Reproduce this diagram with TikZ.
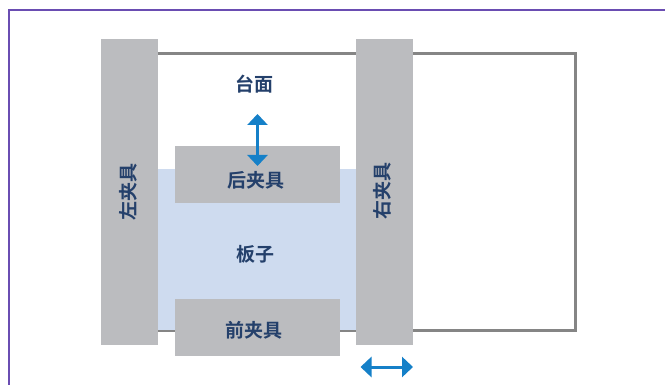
\documentclass[tikz,border=0pt]{standalone}
\usepackage{fontspec}
\setmainfont{Noto Sans CJK SC}[BoldFont={Noto Sans CJK SC Bold}]
\usetikzlibrary{arrows.meta}
\definecolor{clampgrey}{HTML}{BBBCBF}
\definecolor{boardblue}{HTML}{CEDBEF}
\definecolor{tableline}{HTML}{858585}
\definecolor{labelblue}{HTML}{24406B}
\definecolor{arrowblue}{HTML}{1580C8}
\definecolor{framepurple}{HTML}{6A4DB2}
\tikzset{
  x=1pt,y=-1pt,
  box/.style={anchor=north west,inner sep=0pt,outer sep=0pt,draw=none},
  clamp/.style={box,fill=clampgrey},
  lbl/.style={inner sep=0pt,text=labelblue,font=\fontsize{19}{21}\selectfont\bfseries},
  move/.style={draw=arrowblue,line width=3pt,{Triangle[length=11pt,width=20pt]}-{Triangle[length=11pt,width=20pt]}}
}
\begin{document}
\begin{tikzpicture}
\useasboundingbox (0,0) rectangle (665,385);
\fill[white] (0,0) rectangle (665,385);
\coordinate (fa) at (9,385);
\coordinate (fb) at (9,10.5);
\coordinate (fc) at (665,10.5);
\draw[framepurple,line width=2pt] (fa) -- (fb) -- (fc);
\node[box,draw=tableline,line width=3pt,minimum width=425pt,minimum height=276pt] (table) at (150,54) {};
\node[box,fill=boardblue,minimum width=198pt,minimum height=161pt] (board) at (158,169) {};
\node[clamp,minimum width=57pt,minimum height=306pt] (left) at (101,39) {};
\node[clamp,minimum width=57pt,minimum height=306pt] (right) at (356,39) {};
\node[clamp,minimum width=165pt,minimum height=57pt] (rear) at (175,146) {};
\node[clamp,minimum width=165pt,minimum height=57pt] (front) at (175,299) {};
\node[lbl] (ltable) at (254.5,84.5) {台面};
\node[lbl] (lrear) at (255.5,180.5) {后夹具};
\node[lbl] (lboard) at (255.5,254.5) {板子};
\node[lbl] (lfront) at (253.5,330.5) {前夹具};
\node[lbl,rotate=90] (lleft) at (128,192) {左夹具};
\node[lbl,rotate=90] (lright) at (382,191) {右夹具};
\coordinate (va) at (257.5,114);
\coordinate (vb) at (257.5,166);
\coordinate (ha) at (360.5,367);
\coordinate (hb) at (413,367);
\draw[move] (va) -- (vb);
\draw[move] (ha) -- (hb);
\end{tikzpicture}
\end{document}
